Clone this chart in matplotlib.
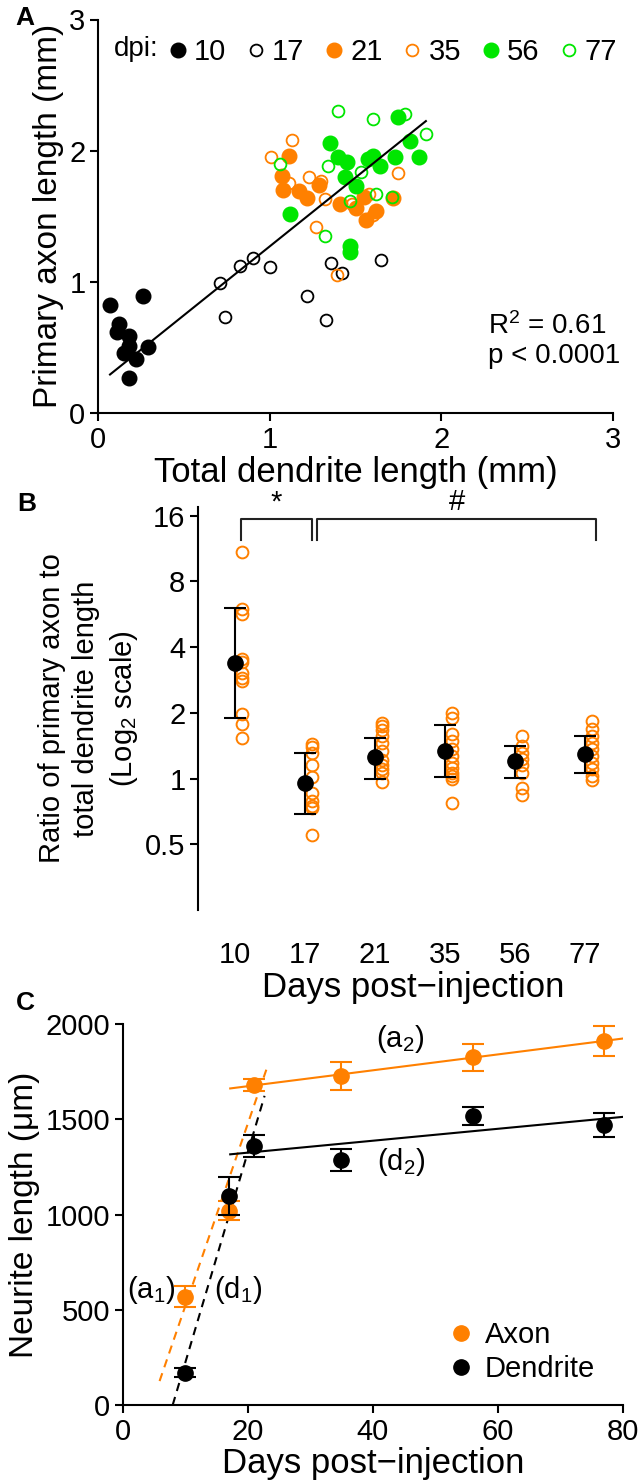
import matplotlib
matplotlib.use("Agg")
import matplotlib.pyplot as plt
import numpy as np

plt.rcParams['font.family'] = ['Liberation Sans', 'DejaVu Sans']
plt.rcParams['mathtext.fontset'] = 'custom'
plt.rcParams['mathtext.rm'] = 'Liberation Sans'
plt.rcParams['mathtext.it'] = 'Liberation Sans:italic'
plt.rcParams['axes.linewidth'] = 1.5
plt.rcParams['xtick.major.width'] = 1.5
plt.rcParams['ytick.major.width'] = 1.5

ORANGE = '#FF8000'
GREEN = '#00E600'

# ---- panel A: primary axon vs total dendrite length (mm) ----
d10_x = [0.07, 0.26, 0.12, 0.11, 0.18, 0.18, 0.15, 0.22, 0.29, 0.18]
d10_y = [0.82, 0.89, 0.68, 0.62, 0.59, 0.51, 0.46, 0.41, 0.50, 0.27]
d17_x = [0.71, 0.83, 0.90, 1.00, 0.74, 1.22, 1.33, 1.36, 1.42, 1.65]
d17_y = [0.99, 1.12, 1.18, 1.11, 0.73, 0.89, 0.71, 1.14, 1.07, 1.17]
d21_x = [1.11, 1.07, 1.08, 1.17, 1.22, 1.29, 1.41, 1.50, 1.55, 1.62, 1.56, 1.72]
d21_y = [1.96, 1.81, 1.70, 1.69, 1.64, 1.74, 1.59, 1.56, 1.65, 1.54, 1.47, 1.64]
d35_x = [1.27, 1.39, 1.13, 1.01, 1.11, 1.23, 1.30, 1.75, 1.32, 1.48, 1.60, 1.58]
d35_y = [1.42, 1.05, 2.08, 1.95, 1.75, 1.80, 1.77, 1.83, 1.63, 1.59, 1.51, 1.67]
d56_x = [1.35, 1.40, 1.45, 1.44, 1.50, 1.57, 1.60, 1.64, 1.73, 1.82, 1.87, 1.75,
         1.12, 1.47, 1.47]
d56_y = [2.06, 1.95, 1.91, 1.80, 1.73, 1.94, 1.96, 1.88, 1.95, 2.07, 1.95, 2.26,
         1.52, 1.27, 1.23]
d77_x = [1.40, 1.60, 1.79, 1.91, 1.34, 1.06, 1.53, 1.62, 1.71, 1.47, 1.32]
d77_y = [2.30, 2.24, 2.28, 2.13, 1.88, 1.90, 1.84, 1.67, 1.65, 1.62, 1.35]
fit_a_slope = 1.05
fit_a_icpt = 0.22
fit_a_range = [0.07, 1.91]

# ---- panel B: axon / dendrite ratio ----
b_days = ['10', '17', '21', '35', '56', '77']
b_ratio = [
    [10.9, 5.96, 5.66, 3.53, 3.40, 3.04, 2.89, 2.80, 1.98, 1.78, 1.54],
    [1.44, 1.39, 1.31, 1.15, 1.02, 0.86, 0.79, 0.75, 0.73, 0.55],
    [1.80, 1.74, 1.66, 1.57, 1.46, 1.34, 1.21, 1.15, 1.11, 1.06, 0.96],
    [2.00, 1.89, 1.60, 1.49, 1.37, 1.27, 1.18, 1.12, 1.06, 1.03, 1.00, 0.77],
    [1.56, 1.41, 1.31, 1.23, 1.15, 1.06, 0.90, 0.84],
    [1.84, 1.69, 1.57, 1.46, 1.37, 1.27, 1.18, 1.11, 1.03, 0.98],
]
b_mean = [3.37, 0.95, 1.25, 1.34, 1.20, 1.30]
b_upper = [6.03, 1.31, 1.54, 1.76, 1.41, 1.57]
b_lower = [1.89, 0.69, 1.00, 1.02, 1.01, 1.06]

# ---- panel C: neurite length (um) ----
c_days = [10, 17, 21, 35, 56, 77]
axon_len = [568, 1020, 1680, 1727, 1825, 1910]
axon_err = [55, 50, 30, 73, 70, 80]
dend_len = [170, 1099, 1361, 1286, 1517, 1470]
dend_err = [25, 100, 57, 60, 48, 62]
# fitted segments: (a1), (d1), (a2), (d2)
seg_slope = [95.7, 110.4, 4.17, 3.13]
seg_icpt = [-439, -883, 1590, 1262]
seg_x0 = [5.9, 8.0, 17.2, 17.2]
seg_x1 = [23.0, 22.7, 80.0, 80.0]
seg_color = [ORANGE, 'black', ORANGE, 'black']
seg_style = ['--', '--', '-', '-']

W, H = 640, 1484
TICK_FS = 21
LABEL_FS = 25


def rect(l, t, r, b):
    return [l / W, 1 - b / H, (r - l) / W, (b - t) / H]


fig = plt.figure(figsize=(W / 100, H / 100), dpi=100)

# ================= A =================
ax = fig.add_axes(rect(98, 19.5, 613, 413))
ms_f, ms_o, mew = 10.5, 8.5, 1.3
groups = [
    (d10_x, d10_y, 'black', True, '10'),
    (d17_x, d17_y, 'black', False, '17'),
    (d21_x, d21_y, ORANGE, True, '21'),
    (d35_x, d35_y, ORANGE, False, '35'),
    (d56_x, d56_y, GREEN, True, '56'),
    (d77_x, d77_y, GREEN, False, '77'),
]
for gx, gy, col, filled, lab in groups:
    if filled:
        ax.plot(gx, gy, 'o', color=col, ms=ms_f, mec=col, label=lab, ls='none')
    else:
        ax.plot(gx, gy, 'o', mfc='none', mec=col, ms=ms_o, mew=mew, label=lab,
                ls='none')
xx = np.array(fit_a_range)
ax.plot(xx, fit_a_icpt + fit_a_slope * xx, color='black', lw=1.5)
ax.set_xlim(0, 3)
ax.set_ylim(0, 3)
ax.set_xticks([0, 1, 2, 3])
ax.set_yticks([0, 1, 2, 3])
ax.spines['top'].set_visible(False)
ax.spines['right'].set_visible(False)
ax.tick_params(labelsize=TICK_FS, length=6, pad=3)
ax.set_xlabel('Total dendrite length (mm)', fontsize=LABEL_FS, labelpad=2)
ax.set_ylabel('Primary axon length (mm)', fontsize=24, labelpad=4)
ax.legend(loc='upper left', bbox_to_anchor=(0.11, 0.99), ncol=6, frameon=False,
          fontsize=21, handlelength=0.6, handletextpad=0.25, columnspacing=0.72,
          borderpad=0.3, borderaxespad=0.2)
ax.text(0.03, 0.925, 'dpi:', transform=ax.transAxes, fontsize=20, va='center')
ax.text(0.757, 0.183, 'R$^2$ = 0.61\np < 0.0001', transform=ax.transAxes,
        fontsize=20, va='center', ha='left', linespacing=1.15)

# ================= B =================
bx = fig.add_axes(rect(198, 507, 628, 910))
bx.set_yscale('log', base=2)
pos = np.arange(len(b_days))
for i, vals in enumerate(b_ratio):
    bx.plot([pos[i] + 0.1] * len(vals), vals, 'o', mfc='none', mec=ORANGE,
            ms=8.5, mew=1.4, ls='none', zorder=2)
mean = np.array(b_mean)
yerr = [mean - np.array(b_lower), np.array(b_upper) - mean]
bx.errorbar(pos, mean, yerr=yerr, fmt='o', color='black', ms=11, lw=1.5,
            capsize=8, capthick=1.5, zorder=3)
bx.set_ylim(0.25, 17.5)
bx.set_xlim(-0.529, 5.614)
bx.set_yticks([0.5, 1, 2, 4, 8, 16])
bx.set_yticklabels(['0.5', '1', '2', '4', '8', '16'])
bx.yaxis.set_minor_locator(matplotlib.ticker.NullLocator())
bx.set_xticks(pos)
bx.set_xticklabels(b_days)
bx.tick_params(axis='x', length=0, pad=22, labelsize=TICK_FS)
bx.tick_params(axis='y', length=6, labelsize=TICK_FS, pad=3)
for s in ['top', 'right', 'bottom']:
    bx.spines[s].set_visible(False)
bx.set_xlabel('Days post\u2212injection', fontsize=LABEL_FS, labelpad=2)
bx.set_ylabel('Ratio of primary axon to\ntotal dendrite length\n(Log$_2$ scale)',
              fontsize=21, linespacing=1.3, labelpad=4)
# significance brackets
br_top, br_leg = 15.4, 12.3
for x0, x1, sym in [(0.08, 1.1, '*'), (1.17, 5.16, '#')]:
    bx.plot([x0, x0, x1, x1], [br_leg, br_top, br_top, br_leg], color='#222222',
            lw=1.5, clip_on=False)
    bx.text((x0 + x1) / 2, br_top * 1.03, sym, ha='center', va='bottom',
            fontsize=21, clip_on=False)

# ================= C =================
cx = fig.add_axes(rect(122.7, 1024, 622.7, 1405))
for k in range(len(seg_slope)):
    sx = np.array([seg_x0[k], seg_x1[k]])
    cx.plot(sx, seg_icpt[k] + seg_slope[k] * sx, ls=seg_style[k],
            color=seg_color[k], lw=1.5, zorder=2,
            dashes=(4, 3) if seg_style[k] == '--' else (None, None))
cx.errorbar(c_days, axon_len, yerr=axon_err, fmt='o', color=ORANGE, ms=11,
            lw=1.5, capsize=8, capthick=1.5, label='Axon', zorder=3)
cx.errorbar(c_days, dend_len, yerr=dend_err, fmt='o', color='black', ms=11,
            lw=1.5, capsize=8, capthick=1.5, label='Dendrite', zorder=4)
cx.set_xlim(0, 80)
cx.set_ylim(0, 2000)
cx.set_xticks([0, 20, 40, 60, 80])
cx.set_yticks([0, 500, 1000, 1500, 2000])
cx.spines['top'].set_visible(False)
cx.spines['right'].set_visible(False)
cx.tick_params(labelsize=TICK_FS, length=6, pad=3)
cx.set_xlabel('Days post\u2212injection', fontsize=LABEL_FS, labelpad=1)
cx.set_ylabel('Neurite length (\u03bcm)', fontsize=24, labelpad=4)
cx.text(44.4, 1920, '(a$_2$)', fontsize=21, ha='center', va='center')
cx.text(44.6, 1277, '(d$_2$)', fontsize=21, ha='center', va='center')
cx.text(4.6, 604, '(a$_1$)', fontsize=21, ha='center', va='center')
cx.text(18.5, 604, '(d$_1$)', fontsize=21, ha='center', va='center')
handles, labels = cx.get_legend_handles_labels()
hs = [h[0] for h in handles]
cx.legend(hs, labels, loc='lower left', bbox_to_anchor=(0.625, 0.02),
          frameon=False, fontsize=21, handlelength=0.8, handletextpad=0.4,
          labelspacing=0.2, borderpad=0)

# panel letters
for lt, (px, py) in zip('ABC', [(25, 18), (27, 504), (25, 1003)]):
    fig.text(px / W, 1 - py / H, lt, fontsize=19, fontweight='bold',
             ha='center', va='center')

fig.savefig('out.png', dpi=100)
